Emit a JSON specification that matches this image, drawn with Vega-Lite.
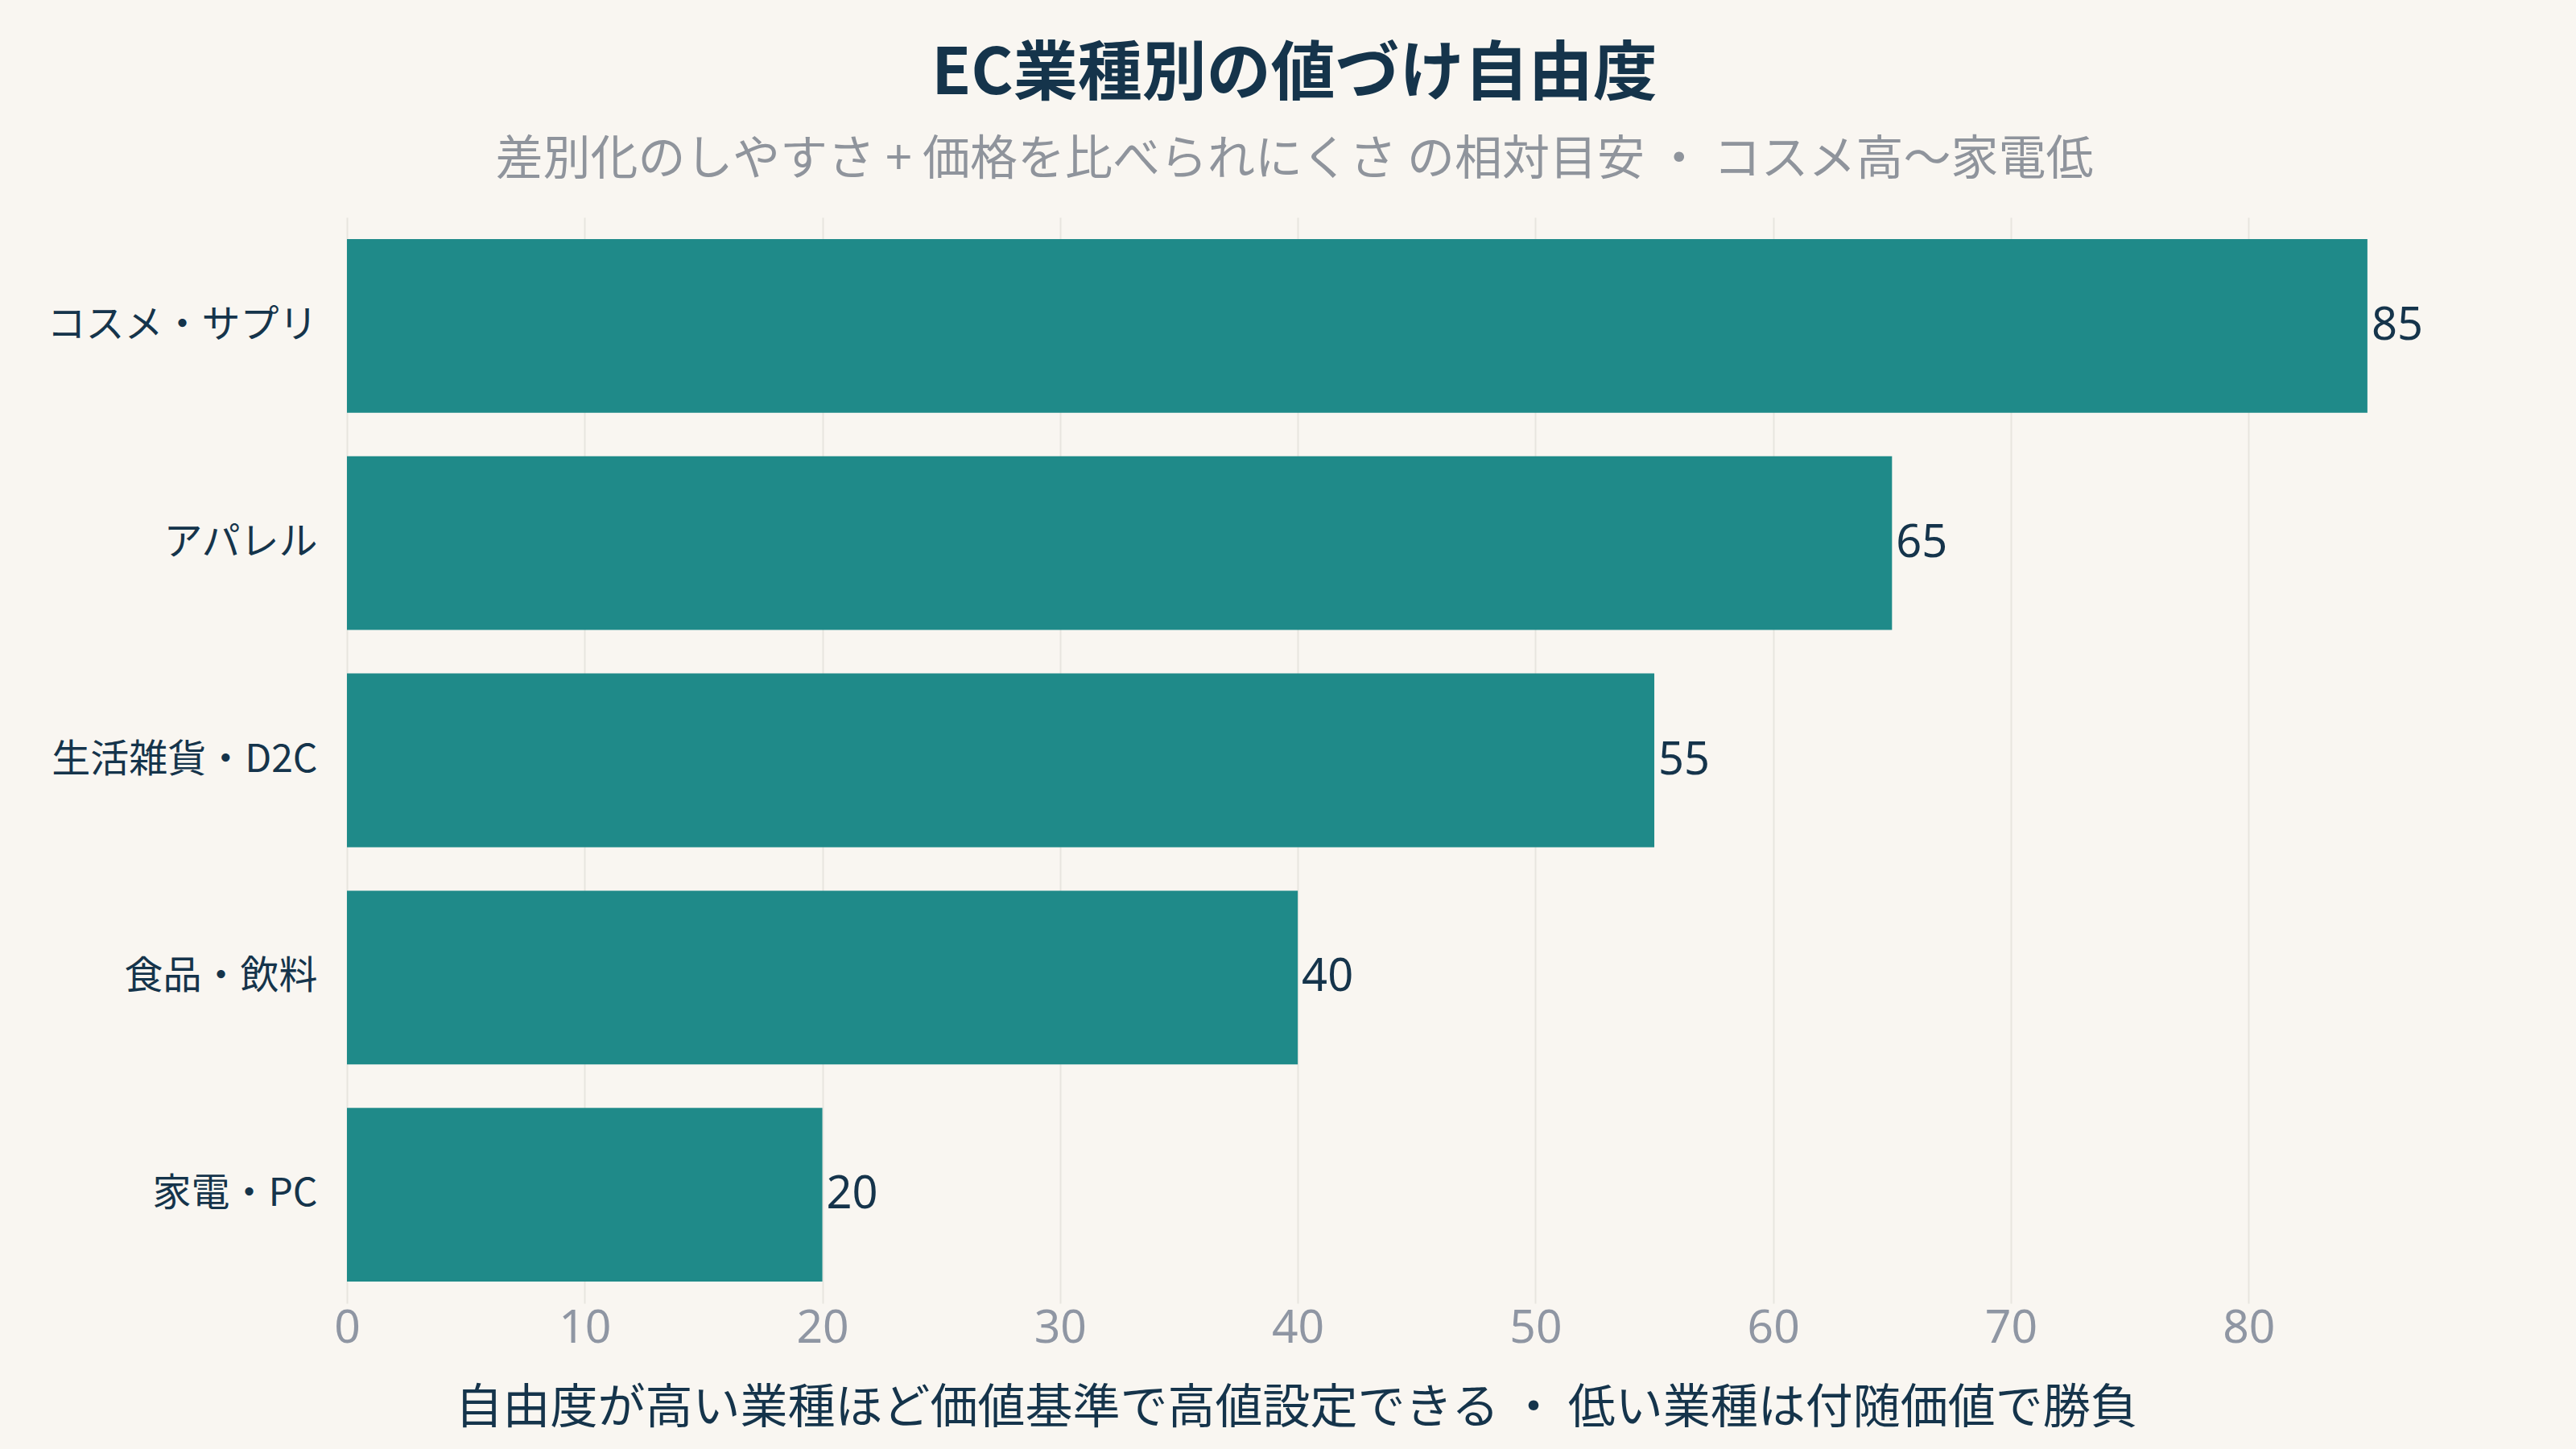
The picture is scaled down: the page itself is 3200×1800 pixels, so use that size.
{
  "$schema": "https://vega.github.io/schema/vega-lite/v6.json",
  "autosize": {"type": "none"},
  "padding": {"left": 431, "top": 270, "right": 141, "bottom": 181},
  "width": 2628,
  "height": 1349,
  "background": "#f9f6f1",
  "config": {
    "font": "Noto Sans CJK JP",
    "view": {"stroke": null}
  },
  "title": {
    "text": "EC業種別の値づけ自由度",
    "subtitle": "差別化のしやすさ + 価格を比べられにくさ の相対目安 ・ コスメ高〜家電低",
    "anchor": "middle",
    "dx": -137,
    "offset": 40,
    "fontSize": 80,
    "fontWeight": "bold",
    "color": "#15344b",
    "subtitleFontSize": 59,
    "subtitleColor": "#8f949c",
    "subtitlePadding": 36
  },
  "data": {
    "values": [
      {"industry": "コスメ・サプリ", "score": 85},
      {"industry": "アパレル", "score": 65},
      {"industry": "生活雑貨・D2C", "score": 55},
      {"industry": "食品・飲料", "score": 40},
      {"industry": "家電・PC", "score": 20}
    ]
  },
  "encoding": {
    "y": {
      "field": "industry",
      "type": "nominal",
      "sort": null,
      "scale": {"paddingInner": 0.2, "paddingOuter": 0.1},
      "axis": {
        "title": null,
        "labelFontSize": 48,
        "labelColor": "#15344b",
        "labelPadding": 37,
        "labelLimit": 0,
        "ticks": false,
        "domain": false,
        "grid": false
      }
    },
    "x": {
      "field": "score",
      "type": "quantitative",
      "scale": {"domain": [0, 89], "nice": false},
      "axis": {
        "title": "自由度が高い業種ほど価値基準で高値設定できる ・ 低い業種は付随価値で勝負",
        "titleFontSize": 59,
        "titleFontWeight": "normal",
        "titleColor": "#15344b",
        "titleX": 1179,
        "titleY": 130,
        "titleAlign": "center",
        "titleBaseline": "middle",
        "values": [0, 10, 20, 30, 40, 50, 60, 70, 80],
        "labelFont": "Noto Sans",
        "labelFontSize": 57,
        "labelColor": "#8f96a3",
        "labelPadding": 3,
        "labelFlush": false,
        "ticks": false,
        "domain": false,
        "grid": true,
        "gridColor": "#e8e5df",
        "gridWidth": 2
      }
    }
  },
  "layer": [
    {"mark": {"type": "bar", "color": "#1f8a89"}},
    {
      "mark": {"type": "text", "align": "left", "baseline": "middle", "dx": 5, "font": "Noto Sans", "fontSize": 56, "color": "#15344b"},
      "encoding": {"text": {"field": "score", "type": "quantitative"}}
    }
  ]
}
